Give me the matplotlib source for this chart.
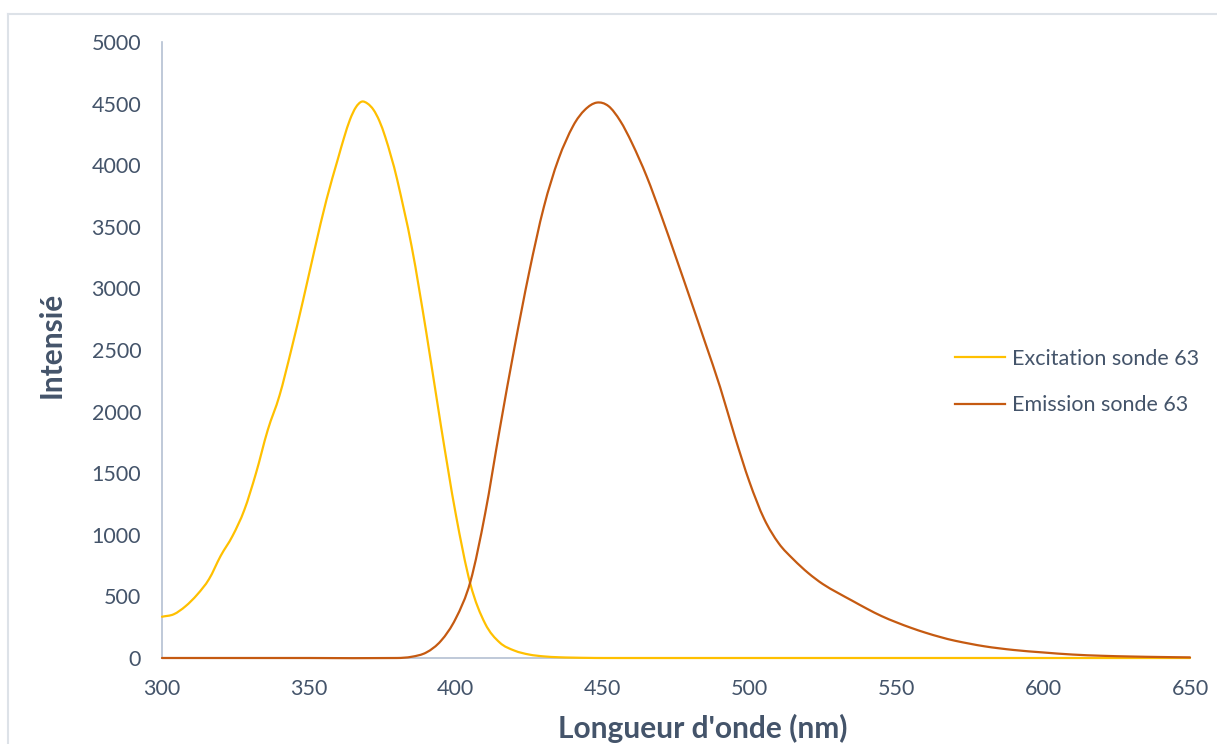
import numpy as np
import matplotlib
matplotlib.use("Agg")
import matplotlib.pyplot as plt
from matplotlib.path import Path
from matplotlib.patches import PathPatch
from matplotlib.lines import Line2D

# ---------------- data ----------------
exc_nm = [300, 304, 308, 312, 316, 320, 324, 328, 332, 336, 340, 344, 348, 352, 356,
          360, 362, 364, 366, 368, 370, 372, 374, 376, 378, 380, 385, 390, 395, 400,
          405, 410, 415, 420, 425, 430, 435, 440, 445, 450, 500, 550, 600, 650]
exc_val = [335, 355, 420, 515, 640, 830, 990, 1200, 1500, 1850, 2130, 2500, 2900, 3320, 3720,
           4060, 4225, 4370, 4470, 4516, 4500, 4450, 4360, 4230, 4070, 3890, 3340, 2640, 1880, 1170,
           600, 280, 125, 60, 28, 13, 6, 3, 1, 0, 0, 0, 0, 0]

emi_nm = [300, 350, 380, 385, 390, 395, 400, 405, 410, 415, 420, 425, 430, 435, 440,
          444, 448, 452, 456, 460, 465, 470, 475, 480, 485, 490, 495, 500, 505,
          510, 515, 520, 525, 530, 535, 540, 545, 550, 555, 560, 565, 570, 580,
          590, 600, 610, 620, 630, 640, 650]
emi_val = [0, 0, 0, 10, 45, 140, 320, 620, 1170, 1860, 2520, 3130, 3660, 4050, 4320,
           4450, 4508, 4480, 4360, 4180, 3910, 3590, 3250, 2905, 2555, 2200, 1800, 1430, 1130,
           930, 800, 690, 600, 530, 465, 400, 340, 290, 245, 205, 170, 140, 95,
           65, 45, 28, 18, 12, 8, 5]

series_names = ["Excitation sonde 63", "Emission sonde 63"]
x_ticks = [300, 350, 400, 450, 500, 550, 600, 650]
y_ticks = [0, 500, 1000, 1500, 2000, 2500, 3000, 3500, 4000, 4500, 5000]
x_label = "Longueur d'onde (nm)"
y_label = "Intensié"

# ---------------- style ----------------
C_EXC = "#FFC000"
C_EMI = "#C55A11"
TXT = "#44546A"
AXC = "#B4C0D2"
FONT = ["Lato", "DejaVu Sans"]
plt.rcParams["font.family"] = FONT


def smooth_path(xs, ys):
    """Smoothed line: cubic Hermite (as Bezier) through the data points."""
    x = np.asarray(xs, float)
    y = np.asarray(ys, float)
    n = len(x)
    s = np.empty(n)
    s[0] = (y[1] - y[0]) / (x[1] - x[0])
    s[-1] = (y[-1] - y[-2]) / (x[-1] - x[-2])
    for i in range(1, n - 1):
        s[i] = (y[i + 1] - y[i - 1]) / (x[i + 1] - x[i - 1])
    verts = [(x[0], y[0])]
    codes = [Path.MOVETO]
    for i in range(n - 1):
        h = x[i + 1] - x[i]
        c1 = (x[i] + h / 3.0, y[i] + s[i] * h / 3.0)
        c2 = (x[i + 1] - h / 3.0, y[i + 1] - s[i + 1] * h / 3.0)
        verts += [c1, c2, (x[i + 1], y[i + 1])]
        codes += [Path.CURVE4] * 3
    return Path(verts, codes)


fig = plt.figure(figsize=(12.17, 7.44), dpi=100)
ax = fig.add_axes([162 / 1217, 86 / 744, 1028 / 1217, 616 / 744])

ax.set_xlim(300, 650)
ax.set_ylim(0, 5000)

for xs, ys, c in [(exc_nm, exc_val, C_EXC), (emi_nm, emi_val, C_EMI)]:
    ax.add_patch(PathPatch(smooth_path(xs, ys), fill=False, edgecolor=c,
                           lw=1.6, capstyle="round", joinstyle="round",
                           zorder=3, clip_on=False))

ax.set_xticks(x_ticks)
ax.set_yticks(y_ticks)
ax.tick_params(axis="both", length=0, labelsize=15.5, colors=TXT)
ax.tick_params(axis="x", pad=15)
ax.tick_params(axis="y", pad=15)

for sp in ["top", "right"]:
    ax.spines[sp].set_visible(False)
for sp in ["left", "bottom"]:
    ax.spines[sp].set_color(AXC)
    ax.spines[sp].set_linewidth(1.2)
    ax.spines[sp].set_zorder(1)

ax.set_xlabel(x_label, fontsize=21.5, fontweight="bold", color=TXT)
ax.set_ylabel(y_label, fontsize=21.5, fontweight="bold", color=TXT)
ax.xaxis.set_label_coords((703 - 162) / 1028, -(728 - 658) / 616)
ax.yaxis.set_label_coords(-(162 - 52) / 1028, (658 - 345) / 616)
ax.xaxis.label.set_verticalalignment("center")
ax.yaxis.label.set_verticalalignment("center")

handles = [Line2D([], [], color=C_EXC, lw=1.6), Line2D([], [], color=C_EMI, lw=1.6)]
leg = ax.legend(handles, series_names, loc="upper left",
                bbox_to_anchor=((955 - 162) / 1028, (658 - 349) / 616),
                frameon=False, fontsize=15.5, borderpad=0, borderaxespad=0,
                handlelength=2.3, handletextpad=0.33, labelspacing=1.22,
                labelcolor=TXT)

# chart-area border (left and top visible)
fig.add_artist(Line2D([8 / 1217, 8 / 1217], [0, 1 - 14 / 744], color="#DDE2E8",
                      lw=1.5, transform=fig.transFigure))
fig.add_artist(Line2D([8 / 1217, 1], [1 - 14 / 744, 1 - 14 / 744], color="#DDE2E8",
                      lw=1.5, transform=fig.transFigure))

fig.savefig("out.png", dpi=100, facecolor="white")
